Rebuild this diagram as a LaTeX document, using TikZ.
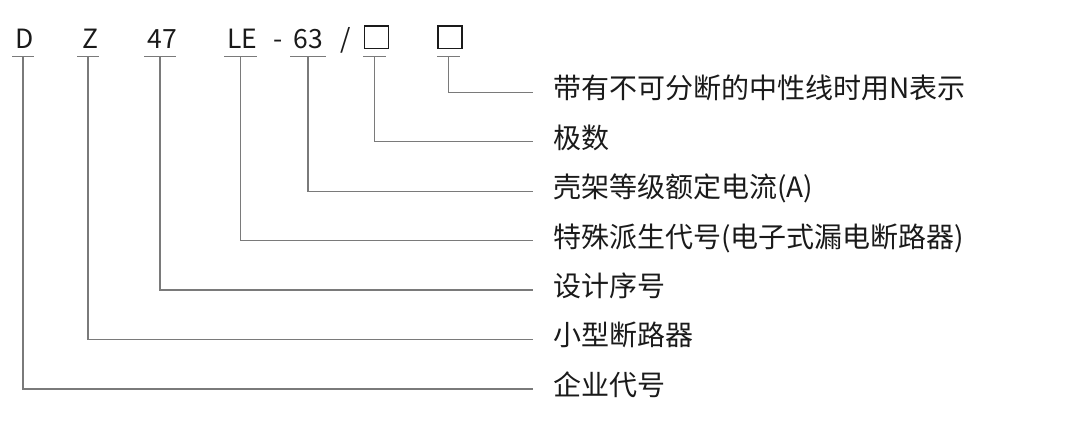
\documentclass[tikz,border=0pt]{standalone}
\usepackage{fontspec}
\setmainfont{Noto Sans CJK SC}
\definecolor{linegray}{HTML}{7A7A7A}
\definecolor{inkdark}{HTML}{1A1A1A}
\begin{document}
\begin{tikzpicture}[x=1pt,y=-1pt,
  code/.style={anchor=base,inner sep=0pt,text=inkdark,font=\fontsize{26.5pt}{28pt}\selectfont},
  lbl/.style={anchor=west,inner xsep=20pt,inner ysep=0pt,text height=20pt,text depth=7pt,text=inkdark,font=\fontsize{28pt}{30pt}\selectfont},
  uline/.style={draw=linegray,line width=1.2pt},
  conn/.style={draw=linegray,line width=1.2pt},
  codebox/.style={draw=inkdark,line width=1.6pt}]
\useasboundingbox (0,0) rectangle (1074,438);
% code characters
\node[code] (cD) at (24.5,48.3) {D};
\node[code] (cZ) at (90,48.3) {Z};
\node[code] (c47) at (162,48.3) {47};
\node[code] (cLE) at (242.5,48.3) {LE};
\node[code] (cdash) at (278.5,48.3) {-};
\node[code] (c63) at (308.5,48.3) {63};
\node[code] (cslash) at (345.7,48.3) {/};
\node[codebox,minimum width=24pt,minimum height=22.3pt,inner sep=0pt] (cB1) at (376.3,37.2) {};
\node[codebox,minimum width=24.3pt,minimum height=22.3pt,inner sep=0pt] (cB2) at (449.9,37.2) {};
% underline coordinates
\coordinate (uD) at (23,56.7);
\coordinate (uZ) at (88,56.7);
\coordinate (u47) at (160,56.7);
\coordinate (uLE) at (240.5,56.7);
\coordinate (u63) at (308,56.7);
\coordinate (uB1) at (374.5,56.7);
\coordinate (uB2) at (448.5,56.7);
\draw[uline] ([xshift=-11pt]uD) -- ([xshift=11pt]uD);
\draw[uline] ([xshift=-11pt]uZ) -- ([xshift=11pt]uZ);
\draw[uline] ([xshift=-16pt]u47) -- ([xshift=16pt]u47);
\draw[uline] ([xshift=-16.5pt]uLE) -- ([xshift=16.5pt]uLE);
\draw[uline] ([xshift=-18pt]u63) -- ([xshift=18pt]u63);
\draw[uline] ([xshift=-11.5pt]uB1) -- ([xshift=11.5pt]uB1);
\draw[uline] ([xshift=-11.5pt]uB2) -- ([xshift=11.5pt]uB2);
% labels
\node[lbl] (lB2) at (533,92.5) {带有不可分断的中性线时用N表示};
\node[lbl] (lB1) at (533,141.9) {极数};
\node[lbl] (l63) at (533,191.3) {壳架等级额定电流(A)};
\node[lbl] (lLE) at (533,240.7) {特殊派生代号(电子式漏电断路器)};
\node[lbl] (l47) at (533,290.1) {设计序号};
\node[lbl] (lZ) at (533,339.5) {小型断路器};
\node[lbl] (lD) at (533,388.9) {企业代号};
% connectors
\draw[conn] (uB2) |- (lB2.west);
\draw[conn] (uB1) |- (lB1.west);
\draw[conn] (u63) |- (l63.west);
\draw[conn] (uLE) |- (lLE.west);
\draw[conn] (u47) |- (l47.west);
\draw[conn] (uZ) |- (lZ.west);
\draw[conn] (uD) |- (lD.west);
\end{tikzpicture}
\end{document}
